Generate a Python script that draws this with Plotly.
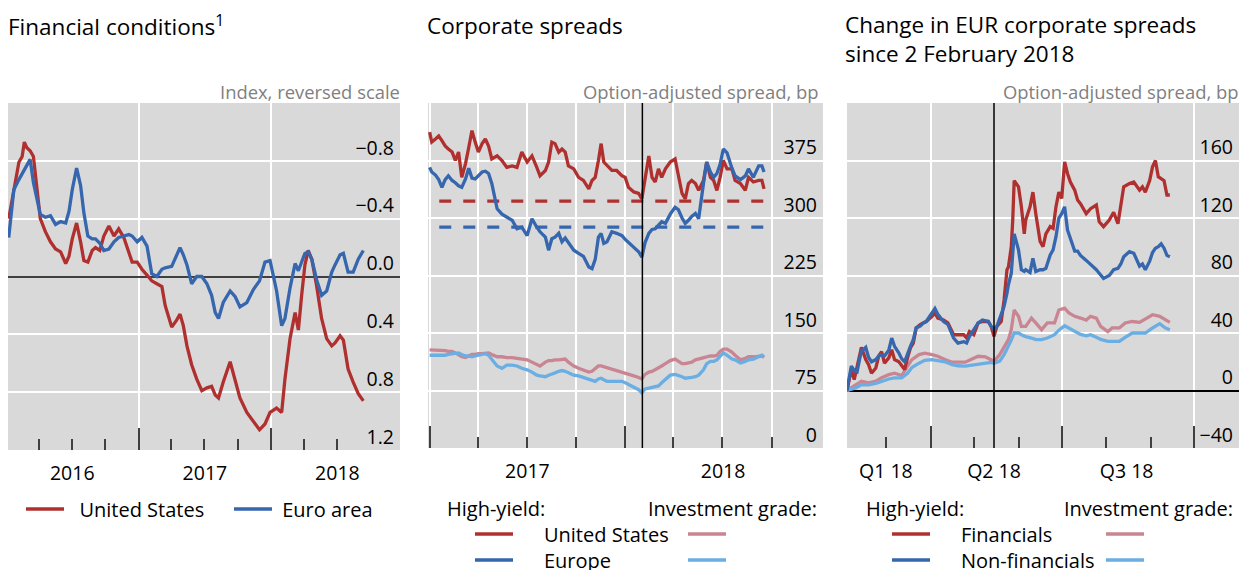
import plotly.graph_objects as go

# ---------------- data ----------------
# Panel 1: financial conditions index (reversed scale)
P1_DATES = ["2016-01-09","2016-01-23","2016-02-06","2016-02-15","2016-02-21","2016-02-28","2016-03-08","2016-03-17","2016-03-26","2016-04-05",
            "2016-04-19","2016-05-03","2016-05-17","2016-05-31","2016-06-14","2016-06-23","2016-07-02","2016-07-14","2016-07-25","2016-08-03",
            "2016-08-14","2016-08-26","2016-09-04","2016-09-16","2016-09-27","2016-10-11","2016-10-25","2016-11-07","2016-11-21","2016-12-05",
            "2016-12-14","2016-12-28","2017-01-10","2017-01-24","2017-02-06","2017-02-20","2017-03-06","2017-03-15","2017-04-02","2017-04-16",
            "2017-04-25","2017-05-04","2017-05-14","2017-05-27","2017-06-10","2017-06-24","2017-07-08","2017-07-21","2017-07-31","2017-08-09",
            "2017-08-22","2017-09-10","2017-09-24","2017-10-07","2017-10-26","2017-11-13","2017-11-30","2017-12-15","2017-12-29","2018-01-16",
            "2018-01-30","2018-02-08","2018-02-22","2018-03-08","2018-03-17","2018-03-26","2018-04-04","2018-04-13","2018-04-23","2018-05-06",
            "2018-05-20","2018-06-03","2018-06-17","2018-06-26","2018-07-10","2018-07-19","2018-08-01","2018-08-15","2018-08-29","2018-09-12"]
P1_US = [-0.40,-0.60,-0.79,-0.83,-0.93,-0.89,-0.87,-0.83,-0.60,-0.40,
         -0.31,-0.24,-0.19,-0.17,-0.09,-0.14,-0.26,-0.37,-0.24,-0.11,
         -0.10,-0.18,-0.20,-0.18,-0.28,-0.35,-0.28,-0.33,-0.27,-0.17,
         -0.10,-0.10,-0.05,-0.01,0.03,0.05,0.07,0.20,0.35,0.30,
         0.26,0.34,0.48,0.61,0.71,0.79,0.77,0.76,0.82,0.84,
         0.73,0.59,0.71,0.84,0.94,1.00,1.06,1.02,0.94,0.91,
         0.94,0.71,0.43,0.25,0.37,0.13,-0.08,-0.18,-0.12,0.06,
         0.29,0.43,0.48,0.46,0.41,0.44,0.64,0.73,0.81,0.86]
P1_EA = [-0.27,-0.60,-0.67,-0.71,-0.74,-0.77,-0.81,-0.65,-0.54,-0.43,
         -0.41,-0.42,-0.36,-0.38,-0.37,-0.45,-0.60,-0.75,-0.63,-0.44,
         -0.28,-0.26,-0.26,-0.23,-0.18,-0.19,-0.24,-0.27,-0.28,-0.29,
         -0.28,-0.24,-0.27,-0.21,-0.02,0.00,-0.05,-0.06,-0.07,-0.15,
         -0.20,-0.15,-0.08,0.05,0.00,0.00,0.05,0.13,0.25,0.29,
         0.18,0.10,0.14,0.21,0.18,0.09,0.03,-0.10,-0.11,0.10,
         0.34,0.29,0.08,-0.09,-0.04,-0.10,-0.16,-0.17,-0.12,0.02,
         0.13,0.10,-0.03,-0.08,-0.15,-0.16,-0.03,-0.03,-0.12,-0.18]
P1_YTICKS = [-0.8, -0.4, 0.0, 0.4, 0.8, 1.2]
P1_YTEXT = ["\u22120.8", "\u22120.4", "0.0", "0.4", "0.8", "1.2"]

# Panel 2: corporate spreads, bp
P2_DATES = ["2017-01-01","2017-01-05","2017-01-12","2017-01-18","2017-01-24","2017-01-30","2017-02-05","2017-02-12","2017-02-18","2017-02-24",
            "2017-03-02","2017-03-09","2017-03-15","2017-03-21","2017-03-27","2017-04-02","2017-04-09","2017-04-15","2017-04-21","2017-04-27",
            "2017-05-07","2017-05-16","2017-05-25","2017-06-04","2017-06-13","2017-06-22","2017-07-02","2017-07-11","2017-07-20","2017-07-26",
            "2017-08-05","2017-08-11","2017-08-17","2017-08-23","2017-08-30","2017-09-05","2017-09-11","2017-09-17","2017-09-27","2017-10-06",
            "2017-10-15","2017-10-25","2017-10-31","2017-11-06","2017-11-12","2017-11-17","2017-11-22","2017-11-28","2017-12-07","2017-12-16",
            "2017-12-26","2018-01-01","2018-01-07","2018-01-17","2018-01-26","2018-02-01","2018-02-07","2018-02-14","2018-02-20","2018-02-26",
            "2018-03-04","2018-03-10","2018-03-17","2018-03-26","2018-04-04","2018-04-10","2018-04-17","2018-04-23","2018-04-29","2018-05-05",
            "2018-05-12","2018-05-18","2018-05-27","2018-06-02","2018-06-09","2018-06-15","2018-06-21","2018-06-27","2018-07-03","2018-07-10",
            "2018-07-19","2018-07-25","2018-08-04","2018-08-13","2018-08-19","2018-08-28","2018-09-07","2018-09-13","2018-09-17"]
P2_HY_US = [412,399,403,407,401,394,390,386,375,386,
            353,371,392,414,399,386,397,403,394,377,
            381,375,366,368,366,386,373,381,366,355,
            362,373,399,397,386,390,386,368,364,353,
            349,338,349,353,375,397,373,368,362,362,
            355,353,340,334,332,325,349,381,353,347,
            364,353,364,373,377,358,332,325,345,349,
            345,336,349,373,353,349,336,353,375,364,
            364,349,345,336,353,347,349,349,338]
P2_HY_EU = [366,360,356,350,340,350,355,349,346,342,
            340,351,365,352,351,355,360,361,358,345,
            312,305,301,297,286,288,277,299,288,282,
            275,258,273,275,280,269,274,268,258,254,
            250,236,234,246,275,280,267,269,282,280,
            277,272,268,262,256,249,268,280,285,286,
            290,295,293,305,314,311,300,293,297,302,
            306,299,345,373,360,353,358,370,390,385,
            365,355,350,355,364,353,368,368,360]
P2_IG_US = [128,128,128,128,127,127,126,126,124,122,
            119,118,120,122,122,123,123,124,124,122,
            119,119,118,118,117,116,115,112,109,107,
            112,114,114,115,115,116,116,112,107,104,
            102,99,100,104,107,107,106,105,103,101,
            99,98,97,94,92,90,96,99,100,102,
            104,107,110,114,116,113,110,110,111,112,
            115,116,117,119,120,120,121,126,129,129,
            125,121,115,117,119,119,119,120,118]
P2_IG_EU = [121,121,120,120,121,121,122,123,124,124,
            122,120,120,119,120,121,122,123,121,116,
            107,104,108,108,107,104,102,99,95,94,
            93,95,97,98,100,101,100,98,95,94,
            92,90,88,87,90,91,89,87,87,87,
            87,85,83,80,76,72,77,78,79,80,
            81,85,89,95,96,95,93,91,92,92,
            93,95,102,110,113,113,115,119,124,121,
            116,115,111,113,115,116,119,121,119]
P2_AVG_DATES = ["2017-01-19", "2018-09-16"]
P2_AVG_HY_US = [322, 322]
P2_AVG_HY_EU = [288, 288]
P2_EVENT = "2018-02-02"
P2_YTICKS = [0, 75, 150, 225, 300, 375]

# Panel 3: change in EUR corporate spreads since 2 Feb 2018, bp
P3_HY_DATES = ["2018-02-02","2018-02-05","2018-02-07","2018-02-09","2018-02-11","2018-02-12","2018-02-15","2018-02-17","2018-02-19","2018-02-22",
               "2018-02-24","2018-02-26","2018-02-28","2018-03-03","2018-03-05","2018-03-07","2018-03-10","2018-03-12","2018-03-14","2018-03-16",
               "2018-03-18","2018-03-20","2018-03-22","2018-03-25","2018-03-27","2018-03-29","2018-04-02","2018-04-04","2018-04-06","2018-04-10",
               "2018-04-13","2018-04-17","2018-04-20","2018-04-24","2018-04-26","2018-04-28","2018-05-01","2018-05-04","2018-05-07","2018-05-11",
               "2018-05-13","2018-05-15","2018-05-17","2018-05-20","2018-05-22","2018-05-24","2018-05-25","2018-05-27","2018-05-28","2018-05-29",
               "2018-06-01","2018-06-03","2018-06-05","2018-06-06","2018-06-09","2018-06-11","2018-06-13","2018-06-16","2018-06-18","2018-06-20",
               "2018-06-23","2018-06-25","2018-06-27","2018-06-29","2018-07-01","2018-07-03","2018-07-05","2018-07-07","2018-07-10","2018-07-12",
               "2018-07-14","2018-07-18","2018-07-21","2018-07-25","2018-07-27","2018-07-30","2018-08-03","2018-08-06","2018-08-09","2018-08-11",
               "2018-08-13","2018-08-17","2018-08-20","2018-08-24","2018-08-26","2018-08-28","2018-08-31","2018-09-02","2018-09-04","2018-09-06",
               "2018-09-08","2018-09-10","2018-09-12","2018-09-14"]
P3_HY_FIN = [0,14.6,7.6,17,24,30,21.5,18,12,15.7,
             24,27,19,22.7,28.4,21.5,20,17,14.6,22.7,
             29.6,33,43.5,46,47,48,51.6,53.9,50.4,49,
             47,38.8,38.8,38.8,36.5,41,38.8,47,48,48,
             44.6,37.7,44.6,48,63,84,86,100,118.6,146,
             141.7,127.8,109,118.6,127.8,138,123,103.6,100,109,
             114,112.8,127.8,138,133.6,159,151,145,139.4,132.5,
             130,123,126.5,129,117.4,114,118.6,124,116,130,
             141.7,144,145,139.4,141.7,138,146,155.6,160,148.7,
             147.5,146,136,136]
P3_HY_NONFIN = [0,17,14,13,23,27,30,23,20,21.5,
                24,25,24,28,36.5,30.7,26,22,20,26,
                30.7,35.4,43.5,45,47,48,53.9,57,53,48,
                46,36.5,33,34,33,37.7,42.3,47,49,48,
                44.6,42.3,44.6,52.7,58.5,67.7,73.5,81.6,97.8,109,
                97.8,84,82.8,84,82,92,82.8,84,84,85,
                94.3,97.8,107,120,123,127.8,111.7,106,97,97,
                94,90.5,88,84,81.6,78,80,84,85,88,
                93,96.6,95.5,86.5,88,84,90,96,99,100,
                102,99,94,93]
P3_IG_DATES = ["2018-02-02","2018-02-08","2018-02-12","2018-02-17","2018-02-22","2018-02-26","2018-03-03","2018-03-07","2018-03-12","2018-03-16",
               "2018-03-19","2018-03-24","2018-03-28","2018-04-02","2018-04-06","2018-04-11","2018-04-16","2018-04-20","2018-04-25","2018-04-29",
               "2018-05-04","2018-05-09","2018-05-13","2018-05-15","2018-05-19","2018-05-22","2018-05-25","2018-05-27","2018-05-29","2018-06-01",
               "2018-06-03","2018-06-06","2018-06-10","2018-06-13","2018-06-17","2018-06-21","2018-06-26","2018-06-29","2018-07-03","2018-07-06",
               "2018-07-10","2018-07-14","2018-07-18","2018-07-21","2018-07-25","2018-07-28","2018-08-02","2018-08-05","2018-08-10","2018-08-14",
               "2018-08-19","2018-08-24","2018-08-28","2018-09-02","2018-09-07","2018-09-11","2018-09-14"]
P3_IG_FIN = [0,4,6.5,5.3,6.5,8.8,11,12,10.4,17,
             21.5,25,26,25,23.8,21.5,19.7,19.7,19.7,21.5,
             23.8,23.4,21.5,20.3,25,30.7,35.4,42.3,56,51.6,
             44.6,44.6,50.4,47,42.3,47,47,56,57.3,53.9,
             51.6,50.4,49,51.6,50.4,44.6,41,43.5,43.5,47,
             48,47.4,49.7,52.7,51.6,49,47.4]
P3_IG_NONFIN = [0,1.8,4,4,4.9,6.5,8,8.8,8.8,12,
                16,19,21,21.5,21,20,18,17.2,17,17.5,
                18.5,19.3,19.5,19,20.5,25,30.7,35,40,40,
                38.8,37.5,36.5,35.4,35.4,36.5,38.8,42,45,43.5,
                41.5,39,38,38.8,37,35.5,34.2,34.2,34.2,37,
                40,40,40,43.5,46.5,43.5,42.3]
P3_EVENT = "2018-05-15"
P3_YTICKS = [-40, 0, 40, 80, 120, 160]
P3_YTEXT = ["\u221240", "0", "40", "80", "120", "160"]
P3_XLABEL_DATES = ["2018-03-01", "2018-05-15", "2018-08-15"]
P3_XLABELS = ["Q1 18", "Q2 18", "Q3 18"]

# ---------------- styling ----------------
W, H = 1240, 570
def fx(p):
    return p / W
def fy(p):
    return 1 - p / H

RED = "#b03030"
BLUE = "#3566ae"
PINK = "#c98592"
LBLUE = "#6aaee3"
BG = "#d9d9d9"
TICKC = "#404040"
FONT = "Open Sans"
LW = 3.3
NB = "\u00a0"

fig = go.Figure()

def line(x, y, color, name, xa, ya, legend, show=True, dash=None):
    fig.add_trace(go.Scatter(x=x, y=y, mode="lines", name=name,
                             line=dict(color=color, width=LW, dash=dash),
                             xaxis=xa, yaxis=ya, legend=legend, showlegend=show,
                             hoverinfo="skip"))

# panel 1
line(P1_DATES, P1_US, RED, NB * 2 + "United States", "x", "y", "legend")
line(P1_DATES, P1_EA, BLUE, NB * 1 + "Euro area", "x", "y", "legend2")
# panel 2
line(P2_DATES, P2_IG_US, PINK, " ", "x2", "y2", "legend5")
line(P2_DATES, P2_IG_EU, LBLUE, " ", "x2", "y2", "legend6")
line(P2_AVG_DATES, P2_AVG_HY_US, RED, "", "x2", "y2", "legend3", show=False, dash="12px,12px")
line(P2_AVG_DATES, P2_AVG_HY_EU, BLUE, "", "x2", "y2", "legend4", show=False, dash="12px,12px")
line(P2_DATES, P2_HY_US, RED, NB * 5 + "United States", "x2", "y2", "legend3")
line(P2_DATES, P2_HY_EU, BLUE, NB * 5 + "Europe", "x2", "y2", "legend4")
# panel 3
line(P3_IG_DATES, P3_IG_FIN, PINK, " ", "x3", "y3", "legend9")
line(P3_IG_DATES, P3_IG_NONFIN, LBLUE, " ", "x3", "y3", "legend10")
line(P3_HY_DATES, P3_HY_FIN, RED, NB * 5 + "Financials", "x3", "y3", "legend7")
line(P3_HY_DATES, P3_HY_NONFIN, BLUE, NB * 5 + "Non-financials", "x3", "y3", "legend8")
# label-only axis for panel 3 quarters
fig.add_trace(go.Scatter(x=[], y=[], xaxis="x4", yaxis="y3", showlegend=False, hoverinfo="skip"))

tickfont = dict(family=FONT, size=19.5, color="black")

def xaxis(dom, rng, tick0, dtick, mdtick, fmt, mgrid, anchor, labels=True):
    return dict(domain=dom, range=rng, type="date", anchor=anchor,
                tick0=tick0, dtick=dtick, ticklabelmode="period", tickformat=fmt,
                ticks="inside", ticklen=22, tickwidth=2, tickcolor=TICKC,
                showgrid=True, gridcolor="white", gridwidth=1.5,
                showline=False, zeroline=False, tickfont=tickfont,
                ticklabelstandoff=9, showticklabels=labels,
                minor=dict(dtick=mdtick, tick0=tick0, ticks="inside", ticklen=11,
                           tickwidth=2, tickcolor=TICKC, showgrid=mgrid,
                           gridcolor="white", gridwidth=1.5),
                fixedrange=True)

def yaxis(dom, rng, vals, text, anchor, zl, zlc, shift):
    return dict(domain=dom, range=rng, anchor=anchor, side="right",
                tickmode="array", tickvals=vals, ticktext=text,
                ticklabelposition="inside", ticks="", ticklabelshift=shift,
                ticklabelstandoff=3,
                showgrid=True, gridcolor="white", gridwidth=1.5,
                zeroline=zl, zerolinecolor=zlc, zerolinewidth=1.5,
                showline=False, tickfont=tickfont, fixedrange=True)

P3_RANGE = ["2018-02-02", "2018-11-01"]
fig.update_layout(
    width=W, height=H, margin=dict(l=0, r=0, t=0, b=0, autoexpand=False),
    paper_bgcolor="white", plot_bgcolor=BG,
    font=dict(family=FONT, size=18, color="black"),
    xaxis=xaxis([fx(8), fx(400)], ["2016-01-07", "2018-12-22"], "2016-01-01", "M12", "M3", "%Y", False, "y"),
    yaxis=yaxis([fy(450), fy(103)], [1.2, -1.2], P1_YTICKS, P1_YTEXT, "x", True, TICKC, 13),
    xaxis2=xaxis([fx(428), fx(823)], ["2016-12-29", "2019-01-05"], "2017-01-01", "M12", "M3", "%Y", True, "y2"),
    yaxis2=yaxis([fy(448), fy(103)], [0, 450], P2_YTICKS, [str(v) for v in P2_YTICKS], "x2", False, "black", -13),
    xaxis3=xaxis([fx(847), fx(1239)], P3_RANGE, "2018-01-01", "M3", "M1", "Q%q %y", False, "y3", labels=False),
    yaxis3=yaxis([fy(448), fy(103)], [-40, 200], P3_YTICKS, P3_YTEXT, "x3", True, "black", -13),
    xaxis4=dict(overlaying="x3", anchor="y3", side="bottom", type="date", range=P3_RANGE,
                tickmode="array", tickvals=P3_XLABEL_DATES, ticktext=P3_XLABELS,
                ticks="", showgrid=False, zeroline=False, showline=False,
                tickfont=tickfont, ticklabelstandoff=9, fixedrange=True),
    showlegend=True,
)

legfont = dict(family=FONT, size=20, color="black")
def leg(sx, cy):
    return dict(orientation="v", x=fx(sx - 10), y=fy(cy), xanchor="left", yanchor="middle",
                font=legfont, bgcolor="rgba(0,0,0,0)", itemclick=False, itemwidth=38,
                tracegroupgap=0)

fig.update_layout(
    legend=leg(31, 509), legend2=leg(239, 509),
    legend3=leg(480, 534), legend4=leg(480, 560),
    legend5=leg(693, 534), legend6=leg(693, 560),
    legend7=leg(897, 534), legend8=leg(897, 560),
    legend9=leg(1111, 534), legend10=leg(1111, 560),
)

# event lines
fig.add_shape(type="line", xref="x2", yref="y2 domain", x0=P2_EVENT, x1=P2_EVENT, y0=0, y1=1,
              line=dict(color="black", width=1.5), layer="above")
fig.add_shape(type="line", xref="x3", yref="y3 domain", x0=P3_EVENT, x1=P3_EVENT, y0=0, y1=1,
              line=dict(color="black", width=1.5), layer="above")

def ann(text, x, y, xanchor="left", size=22.5, color="black", yanchor="middle"):
    fig.add_annotation(text=text, x=x, y=y, xref="paper", yref="paper", xanchor=xanchor,
                       yanchor=yanchor, showarrow=False, align="left",
                       font=dict(family=FONT, size=size, color=color))

ann("Financial conditions<sup>1</sup>", fx(6), fy(25))
ann("Corporate spreads", fx(425), fy(25))
ann("Change in EUR corporate spreads<br>since 2 February 2018", fx(843), fy(39))
ann("Index, reversed scale", fx(402), fy(91), "right", 18.4, "#808080")
ann("Option-adjusted spread, bp", fx(820), fy(91), "right", 18.4, "#808080")
ann("Option-adjusted spread, bp", fx(1240), fy(91), "right", 18.4, "#808080")
ann("High-yield:", fx(445), fy(508), size=20)
ann("Investment grade:", fx(819), fy(508), "right", 20)
ann("High-yield:", fx(864), fy(508), size=20)
ann("Investment grade:", fx(1235), fy(508), "right", 20)

fig.write_html("out.html", config={"displayModeBar": False},
               post_script="document.body.style.margin='0';document.body.style.overflow='hidden';")
